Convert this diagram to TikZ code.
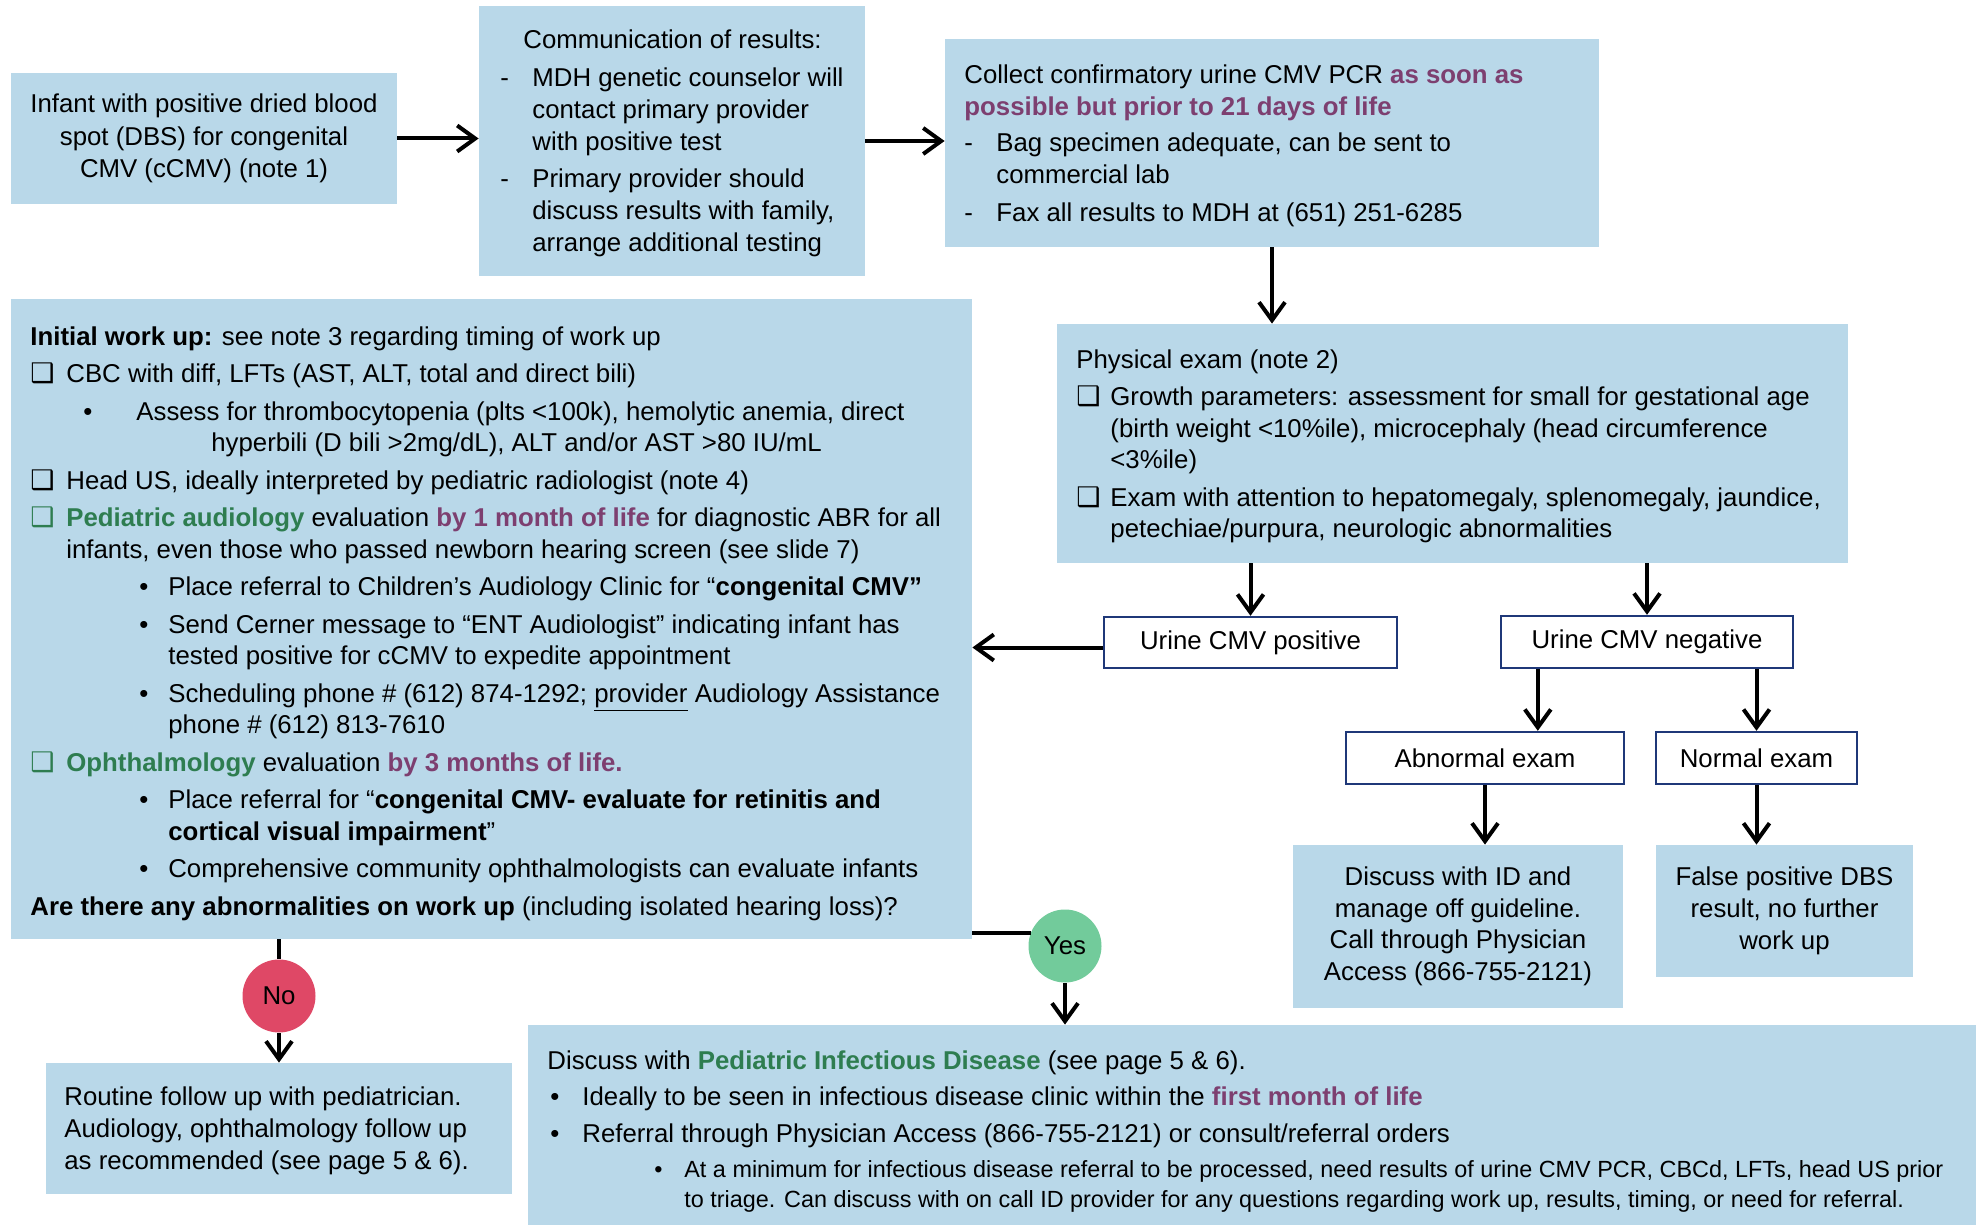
\documentclass[tikz,border=0pt]{standalone}
\usepackage{fontspec}
\setmainfont{Liberation Sans}
\newfontfamily\djv{DejaVu Sans}
\usetikzlibrary{arrows.meta,calc}
\definecolor{boxblue}{RGB}{185,216,233}
\definecolor{cpurp}{RGB}{125,63,112}
\definecolor{cgreen}{RGB}{46,125,80}
\definecolor{cred}{RGB}{223,72,102}
\definecolor{cgcirc}{RGB}{114,203,155}
\definecolor{navy}{RGB}{31,56,120}
\newcommand\fs{\fontsize{12.9}{15.75}\selectfont}
\newcommand\fsc{\fontsize{12.9}{16.25}\selectfont}
\newcommand\fsr{\fontsize{12.9}{16}\selectfont}
\newcommand\fsm{\fontsize{11.7}{15}\selectfont}
\newcommand\purp[1]{\textcolor{cpurp}{\bfseries #1}}
\newcommand\grn[1]{\textcolor{cgreen}{\bfseries #1}}
\newcommand\chk{{\djv\fontsize{13.5}{13.5}\selectfont ❑}}
\newcommand\gchk{\textcolor{cgreen}{\chk}}
\newcommand\cb{\makebox[18pt][l]{\chk}}
\newcommand\gcb{\makebox[18pt][l]{\gchk}}
\newcommand\bul{\hspace*{54.5pt}\makebox[14.5pt][l]{•}}
\newcommand\bcont{\hspace*{69pt}}
\begin{document}
\begin{tikzpicture}[x=0.5pt,y=-0.5pt,
  bx/.style={rectangle, fill=boxblue, inner sep=0pt},
  ob/.style={rectangle, draw=navy, line width=1.2pt, fill=white, inner sep=0pt, font=\fs},
  txt/.style={anchor=north west, inner sep=0pt, align=left, font=\fs},
  ctxt/.style={align=center, font=\fsc},
  arr/.style={line width=2pt, -{Straight Barb[length=9pt,width=13pt]}},
  ln/.style={line width=2pt},
  dec/.style={circle, inner sep=0pt, minimum size=36.5pt, font=\fs}]
\useasboundingbox (0,0) rectangle (1976,1225);

% top row
\node[bx, minimum width=193pt, minimum height=65.5pt, ctxt] (b1) at (204,138.5)
  {Infant with positive dried blood\\spot (DBS) for congenital\\CMV (cCMV) (note 1)};
\node[bx, minimum width=193pt, minimum height=135pt] (b2) at (672,141) {};
\node[txt, font=\fontsize{12.9}{16}\selectfont] (t2) at (500,26) {\strut\hspace*{11.5pt}Communication of results:\\[3pt]
\makebox[16pt][l]{-}MDH genetic counselor will\\
\hspace*{16pt}contact primary provider\\
\hspace*{16pt}with positive test\\[2.5pt]
\makebox[16pt][l]{-}Primary provider should\\
\hspace*{16pt}discuss results with family,\\
\hspace*{16pt}arrange additional testing};
\node[bx, minimum width=327pt, minimum height=104pt] (b3) at (1272,143) {};
\node[txt, font=\fontsize{12.9}{16}\selectfont] (t3) at (964,61) {\strut Collect confirmatory urine CMV PCR \purp{as soon as}\\
\purp{possible but prior to 21 days of life}\\[2pt]
\makebox[16pt][l]{-}Bag specimen adequate, can be sent to\\
\hspace*{16pt}commercial lab\\[3pt]
\makebox[16pt][l]{-}Fax all results to MDH at (651) 251-6285};

% physical exam
\node[bx, minimum width=395.5pt, minimum height=119.5pt] (pe) at (1452.5,443.5) {};
\node[txt] (tpe) at (1076,346) {\strut Physical exam (note 2)\\[3pt]
\makebox[17pt][l]{\chk}Growth parameters: assessment for small for gestational age\\
\hspace*{17pt}(birth weight <10\%ile), microcephaly (head circumference\\
\hspace*{17pt}<3\%ile)\\[3pt]
\makebox[17pt][l]{\chk}Exam with attention to hepatomegaly, splenomegaly, jaundice,\\
\hspace*{17pt}petechiae/purpura, neurologic abnormalities};

% work up
\node[bx, minimum width=480.5pt, minimum height=320pt] (wu) at (491.5,619) {};
\node[txt] (twu) at (30,323) {\strut\textbf{Initial work up:} see note 3 regarding timing of work up\\[3pt]
\cb CBC with diff, LFTs (AST, ALT, total and direct bili)\\[3pt]
\hspace*{26.5pt}\makebox[26.5pt][l]{•}Assess for thrombocytopenia (plts <100k), hemolytic anemia, direct\\
\hspace*{90.5pt}hyperbili (D bili >2mg/dL), ALT and/or AST >80 IU/mL\\[3pt]
\cb Head US, ideally interpreted by pediatric radiologist (note 4)\\[3pt]
\gcb\grn{Pediatric audiology} evaluation \purp{by 1 month of life} for diagnostic ABR for all\\
\hspace*{18pt}infants, even those who passed newborn hearing screen (see slide 7)\\[3pt]
\bul Place referral to Children’s Audiology Clinic for “\textbf{congenital CMV”}\\[3pt]
\bul Send Cerner message to “ENT Audiologist” indicating infant has\\
\bcont tested positive for cCMV to expedite appointment\\[3pt]
\bul Scheduling phone \# (612) 874-1292; \underline{provider} Audiology Assistance\\
\bcont phone \# (612) 813-7610\\[3pt]
\gcb\grn{Ophthalmology} evaluation \purp{by 3 months of life.}\\[3pt]
\bul Place referral for “\textbf{congenital CMV- evaluate for retinitis and}\\
\bcont\textbf{cortical visual impairment}”\\[3pt]
\bul Comprehensive community ophthalmologists can evaluate infants\\[3pt]
\textbf{Are there any abnormalities on work up} (including isolated hearing loss)?};

% urine results
\node[ob, minimum width=146.5pt, minimum height=25.5pt] (pos) at (1250.5,642.5) {Urine CMV positive};
\node[ob, minimum width=146pt, minimum height=26pt] (neg) at (1647,642) {Urine CMV negative};
\node[ob, minimum width=139pt, minimum height=26pt] (abn) at (1485,758) {Abnormal exam};
\node[ob, minimum width=100.5pt, minimum height=26pt] (nrm) at (1756.5,758) {Normal exam};
\node[bx, minimum width=165pt, minimum height=81.5pt, ctxt, font=\fs] (idm) at (1458,926.5)
  {Discuss with ID and\\manage off guideline.\\Call through Physician\\Access (866-755-2121)};
\node[bx, minimum width=128.5pt, minimum height=66pt, ctxt, font=\fsr] (fp) at (1784.5,911)
  {False positive DBS\\result, no further\\work up};

% outcomes
\node[bx, minimum width=233pt, minimum height=65.5pt] (rt) at (279,1128.5) {};
\node[txt, font=\fsr] (trt) at (64,1083) {\strut Routine follow up with pediatrician.\\
Audiology, ophthalmology follow up\\
as recommended (see page 5 \& 6).};
\node[bx, minimum width=724pt, minimum height=100pt] (idb) at (1252,1125) {};
\node[txt] (tidb) at (547,1047) {\strut Discuss with \grn{Pediatric Infectious Disease} (see page 5 \& 6).\\[2.25pt]
\hspace*{1.5pt}\makebox[16pt][l]{•}Ideally to be seen in infectious disease clinic within the \purp{first month of life}\\[2.75pt]
\hspace*{1.5pt}\makebox[16pt][l]{•}Referral through Physician Access (866-755-2121) or consult/referral orders\\[1.75pt]
{\fsm\hspace*{53.5pt}\makebox[15pt][l]{•}At a minimum for infectious disease referral to be processed, need results of urine CMV PCR, CBCd, LFTs, head US prior}\\[-0.75pt]
{\fsm\hspace*{68.5pt}to triage. Can discuss with on call ID provider for any questions regarding work up, results, timing, or need for referral.}};

\node[dec, fill=cred] (no) at (279,996) {No};
\node[dec, fill=cgcirc] (yes) at (1065,946) {Yes};

% connectors
\draw[arr] (b1.east) -- (b1.east -| b2.west);
\draw[arr] (b2.east) -- (b2.east -| b3.west);
\draw[arr] (b3.south) -- (b3.south |- pe.north);
\draw[arr] (pos.north |- pe.south) -- (pos.north);
\draw[arr] (neg.north |- pe.south) -- (neg.north);
\draw[arr] ([yshift=-2.5pt]pos.west) -- ([yshift=-2.5pt]pos.west -| wu.east);
\draw[arr] ([xshift=19pt]neg.south west) -- ([xshift=19pt]neg.south west |- abn.north);
\draw[arr] (nrm.north |- neg.south) -- (nrm.north);
\draw[arr] (abn.south) -- (abn.south |- idm.north);
\draw[arr] (nrm.south) -- (nrm.south |- fp.north);
\draw[ln] (no.north |- wu.south) -- (no.north);
\draw[arr] (no.south) -- (no.south |- rt.north);
\draw[ln] (wu.east |- yes.159) -- (yes.159);
\draw[arr] (yes.south) -- (yes.south |- idb.north);
\end{tikzpicture}
\end{document}
